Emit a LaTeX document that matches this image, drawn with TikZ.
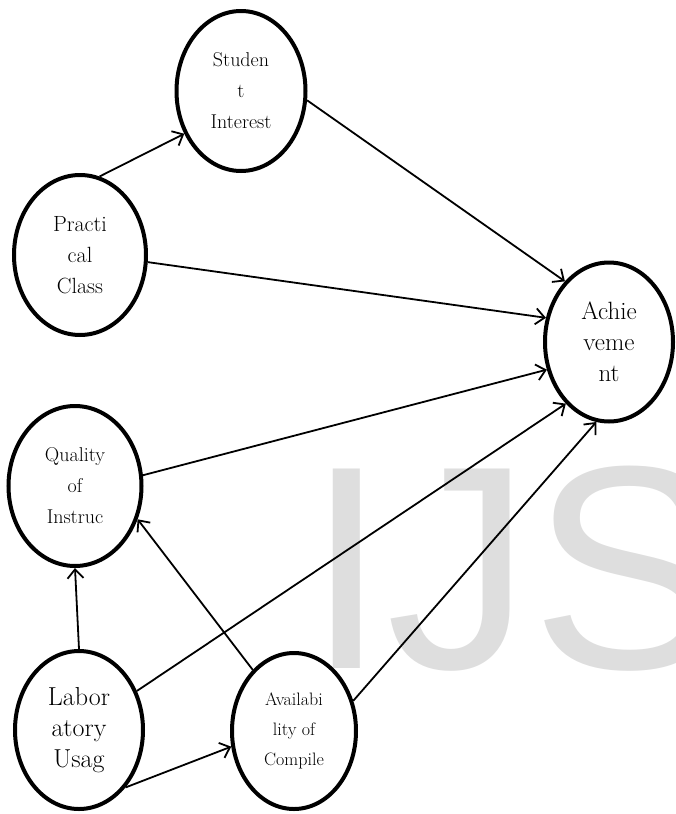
\documentclass[tikz,border=0pt]{standalone}
\usepackage{fontspec}
\newfontfamily\markfont{Liberation Sans}
\usetikzlibrary{shapes.geometric, arrows.meta}

\begin{document}
\begin{tikzpicture}[x=1pt, y=-1pt,
    factor/.style={ellipse, draw, line width=4pt, inner sep=0pt, align=center},
    connect/.style={-{Straight Barb[length=9pt, width=16pt]}, line width=1.8pt},
    mark_style/.style={font=\markfont\fontsize{290}{290}\selectfont, text=black!13, inner sep=0pt, text depth=0pt, anchor=base west}
]

    \useasboundingbox (0,0) rectangle (676,814);

    % --- WATERMARK ---
    \begin{scope}
        \clip (0,0) rectangle (676,814);
        \node[mark_style] (mark) at (306,668) {IJS};
    \end{scope}

    % --- DRAW FACTORS ---
    \node[factor, minimum width=129pt, minimum height=160pt, font=\fontsize{20}{31}\selectfont] (stud) at (241,91) {Studen\\t\\Interest};
    \node[factor, minimum width=132pt, minimum height=160pt, font=\fontsize{22}{31}\selectfont] (prac) at (80,255) {Practi\\cal\\Class};
    \node[factor, minimum width=128pt, minimum height=159pt, font=\fontsize{25}{31}\selectfont] (ach) at (609,342) {Achie\\veme\\nt};
    \node[factor, minimum width=133pt, minimum height=160pt, font=\fontsize{20}{31}\selectfont] (qual) at (75,486) {Quality\\of\\Instruc};
    \node[factor, minimum width=128pt, minimum height=158pt, font=\fontsize{26}{31}\selectfont] (lab) at (79,730) {Labor\\atory\\Usag};
    \node[factor, minimum width=124pt, minimum height=156pt, font=\fontsize{18}{30}\selectfont] (avail) at (294,731) {Availabi\\lity of\\Compile};

    % --- DRAW CONNECTIONS ---
    \draw[connect] (prac.76) -- (stud.217);
    \draw[connect] (stud.352) -- (ach.126);
    \draw[connect] (prac.354) -- (ach.159);
    \draw[connect] (qual.9) -- (ach.204);
    \draw[connect] (lab.34) -- (ach.235);
    \draw[connect] (avail.27) -- (ach.261);
    \draw[connect] (avail.124) -- (qual.332);
    \draw[connect] (lab.north) -- (qual.south);
    \draw[connect] (lab.309) -- (avail.194);

\end{tikzpicture}
\end{document}
